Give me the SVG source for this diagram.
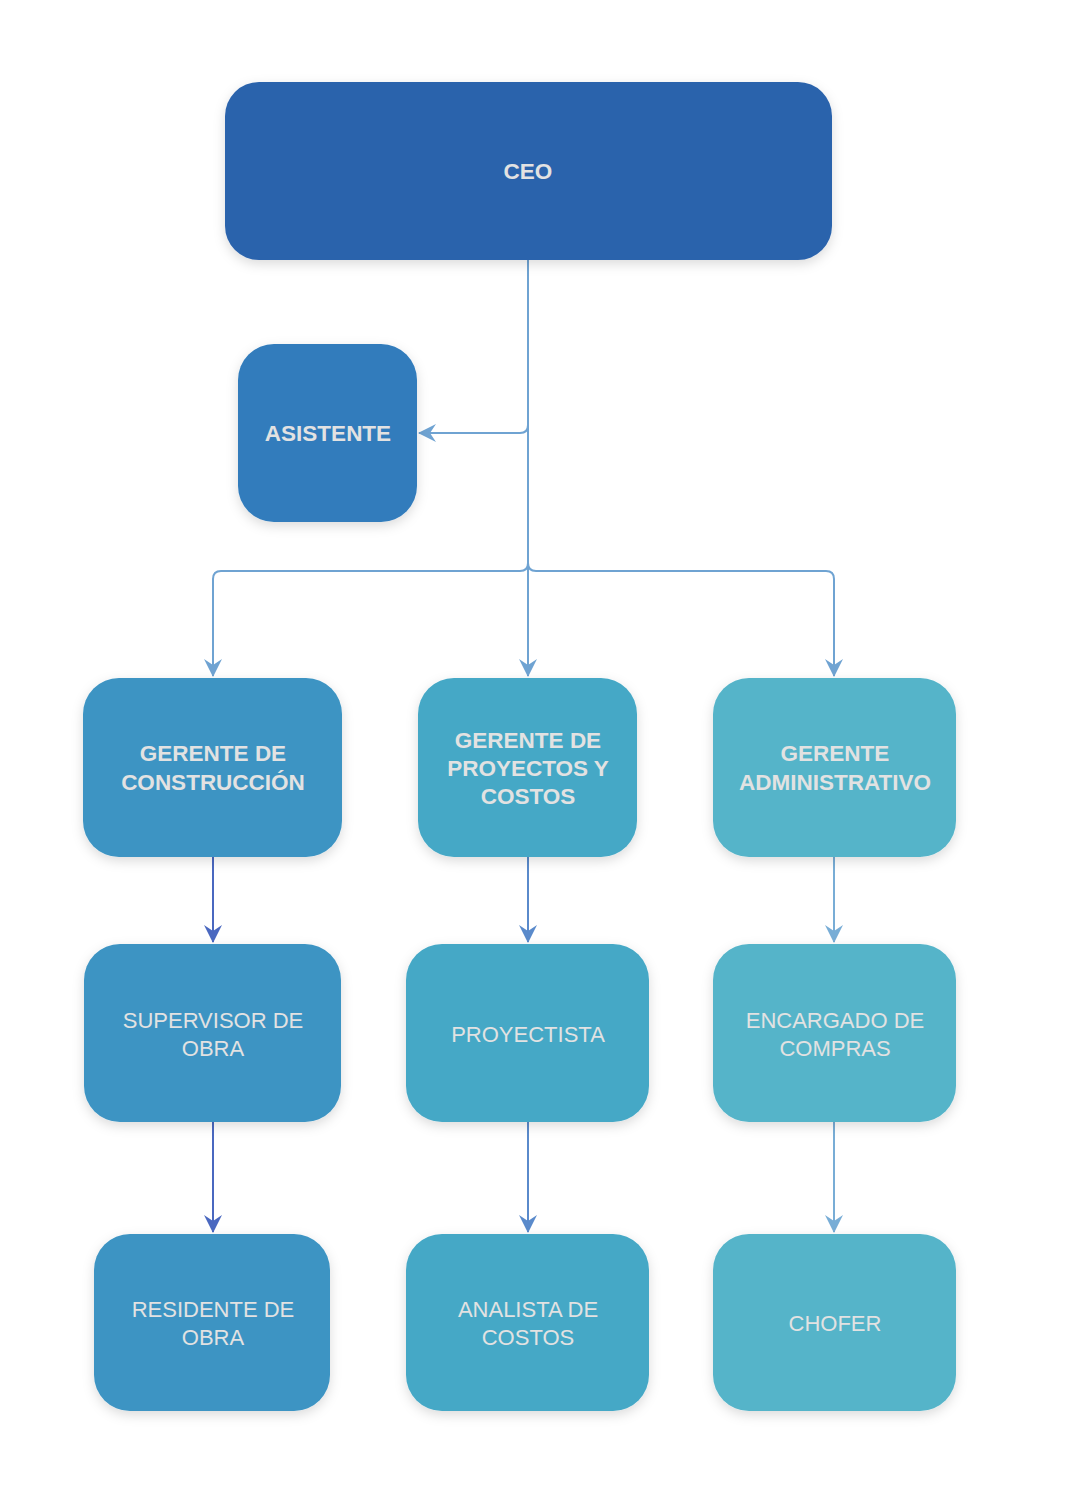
<svg xmlns="http://www.w3.org/2000/svg" width="1068" height="1506" viewBox="0 0 1068 1506">
  <style>
    .t { font-family: "Liberation Sans", Arial, sans-serif; font-size: 22px; fill: #E2E2E2; text-anchor: middle; }
    .b { font-weight: bold; font-size: 22.5px; }
    .c { fill: none; stroke-width: 2; }
  </style>
  <defs>
    <filter id="sh" x="-20%" y="-20%" width="140%" height="150%">
      <feDropShadow dx="0" dy="4" stdDeviation="6" flood-color="#000" flood-opacity="0.14"/>
    </filter>
    <marker id="aTop" viewBox="0 0 18 18" refX="17" refY="9" markerWidth="18" markerHeight="18" markerUnits="userSpaceOnUse" orient="auto">
      <path d="M0,0 L18,9 L0,18 L6,9 Z" fill="#6FA3D2"/>
    </marker>
    <marker id="a1" viewBox="0 0 18 18" refX="17" refY="9" markerWidth="18" markerHeight="18" markerUnits="userSpaceOnUse" orient="auto">
      <path d="M0,0 L18,9 L0,18 L6,9 Z" fill="#4A68C0"/>
    </marker>
    <marker id="a2" viewBox="0 0 18 18" refX="17" refY="9" markerWidth="18" markerHeight="18" markerUnits="userSpaceOnUse" orient="auto">
      <path d="M0,0 L18,9 L0,18 L6,9 Z" fill="#5A8ACB"/>
    </marker>
    <marker id="a3" viewBox="0 0 18 18" refX="17" refY="9" markerWidth="18" markerHeight="18" markerUnits="userSpaceOnUse" orient="auto">
      <path d="M0,0 L18,9 L0,18 L6,9 Z" fill="#78ADD6"/>
    </marker>
  </defs>
  <rect width="1068" height="1506" fill="#FFFFFF"/>

  <g id="connectors">
    <path class="c" stroke="#6FA3D2" d="M528,260 V676" marker-end="url(#aTop)"/>
    <path class="c" stroke="#6FA3D2" d="M528,425 Q528,433 520,433 H419" marker-end="url(#aTop)"/>
    <path class="c" stroke="#6FA3D2" d="M528,563 Q528,571 520,571 H221 Q213,571 213,579 V676" marker-end="url(#aTop)"/>
    <path class="c" stroke="#6FA3D2" d="M528,563 Q528,571 536,571 H826 Q834,571 834,579 V676" marker-end="url(#aTop)"/>
    <path class="c" stroke="#4A68C0" d="M213,857 V942" marker-end="url(#a1)"/>
    <path class="c" stroke="#4A68C0" d="M213,1122 V1232" marker-end="url(#a1)"/>
    <path class="c" stroke="#5A8ACB" d="M528,857 V942" marker-end="url(#a2)"/>
    <path class="c" stroke="#5A8ACB" d="M528,1122 V1232" marker-end="url(#a2)"/>
    <path class="c" stroke="#78ADD6" d="M834,857 V942" marker-end="url(#a3)"/>
    <path class="c" stroke="#78ADD6" d="M834,1122 V1232" marker-end="url(#a3)"/>
  </g>

  <g id="ceo">
    <rect x="225" y="82" width="607" height="178" rx="34" fill="#2B63AC" filter="url(#sh)"/>
    <text class="t b" x="528" y="179">CEO</text>
  </g>
  <g id="asistente">
    <rect x="238" y="344" width="179" height="178" rx="36" fill="#317CBC" filter="url(#sh)"/>
    <text class="t b" x="328" y="441">ASISTENTE</text>
  </g>

  <g id="gerente-construccion">
    <rect x="83" y="678" width="259" height="179" rx="36" fill="#3C94C3" filter="url(#sh)"/>
    <text class="t b" x="213" y="761">GERENTE DE</text>
    <text class="t b" x="213" y="790">CONSTRUCCIÓN</text>
  </g>
  <g id="gerente-proyectos">
    <rect x="418" y="678" width="219" height="179" rx="36" fill="#45A8C6" filter="url(#sh)"/>
    <text class="t b" x="528" y="748">GERENTE DE</text>
    <text class="t b" x="528" y="776">PROYECTOS Y</text>
    <text class="t b" x="528" y="804">COSTOS</text>
  </g>
  <g id="gerente-administrativo">
    <rect x="713" y="678" width="243" height="179" rx="36" fill="#55B4C9" filter="url(#sh)"/>
    <text class="t b" x="835" y="761">GERENTE</text>
    <text class="t b" x="835" y="790">ADMINISTRATIVO</text>
  </g>

  <g id="supervisor">
    <rect x="84" y="944" width="257" height="178" rx="36" fill="#3C94C3" filter="url(#sh)"/>
    <text class="t" x="213" y="1028">SUPERVISOR DE</text>
    <text class="t" x="213" y="1056">OBRA</text>
  </g>
  <g id="proyectista">
    <rect x="406" y="944" width="243" height="178" rx="36" fill="#45A8C6" filter="url(#sh)"/>
    <text class="t" x="528" y="1042">PROYECTISTA</text>
  </g>
  <g id="encargado-compras">
    <rect x="713" y="944" width="243" height="178" rx="36" fill="#55B4C9" filter="url(#sh)"/>
    <text class="t" x="835" y="1028">ENCARGADO DE</text>
    <text class="t" x="835" y="1056">COMPRAS</text>
  </g>

  <g id="residente">
    <rect x="94" y="1234" width="236" height="177" rx="36" fill="#3C94C3" filter="url(#sh)"/>
    <text class="t" x="213" y="1317">RESIDENTE DE</text>
    <text class="t" x="213" y="1345">OBRA</text>
  </g>
  <g id="analista">
    <rect x="406" y="1234" width="243" height="177" rx="36" fill="#45A8C6" filter="url(#sh)"/>
    <text class="t" x="528" y="1317">ANALISTA DE</text>
    <text class="t" x="528" y="1345">COSTOS</text>
  </g>
  <g id="chofer">
    <rect x="713" y="1234" width="243" height="177" rx="36" fill="#55B4C9" filter="url(#sh)"/>
    <text class="t" x="835" y="1331">CHOFER</text>
  </g>
</svg>
